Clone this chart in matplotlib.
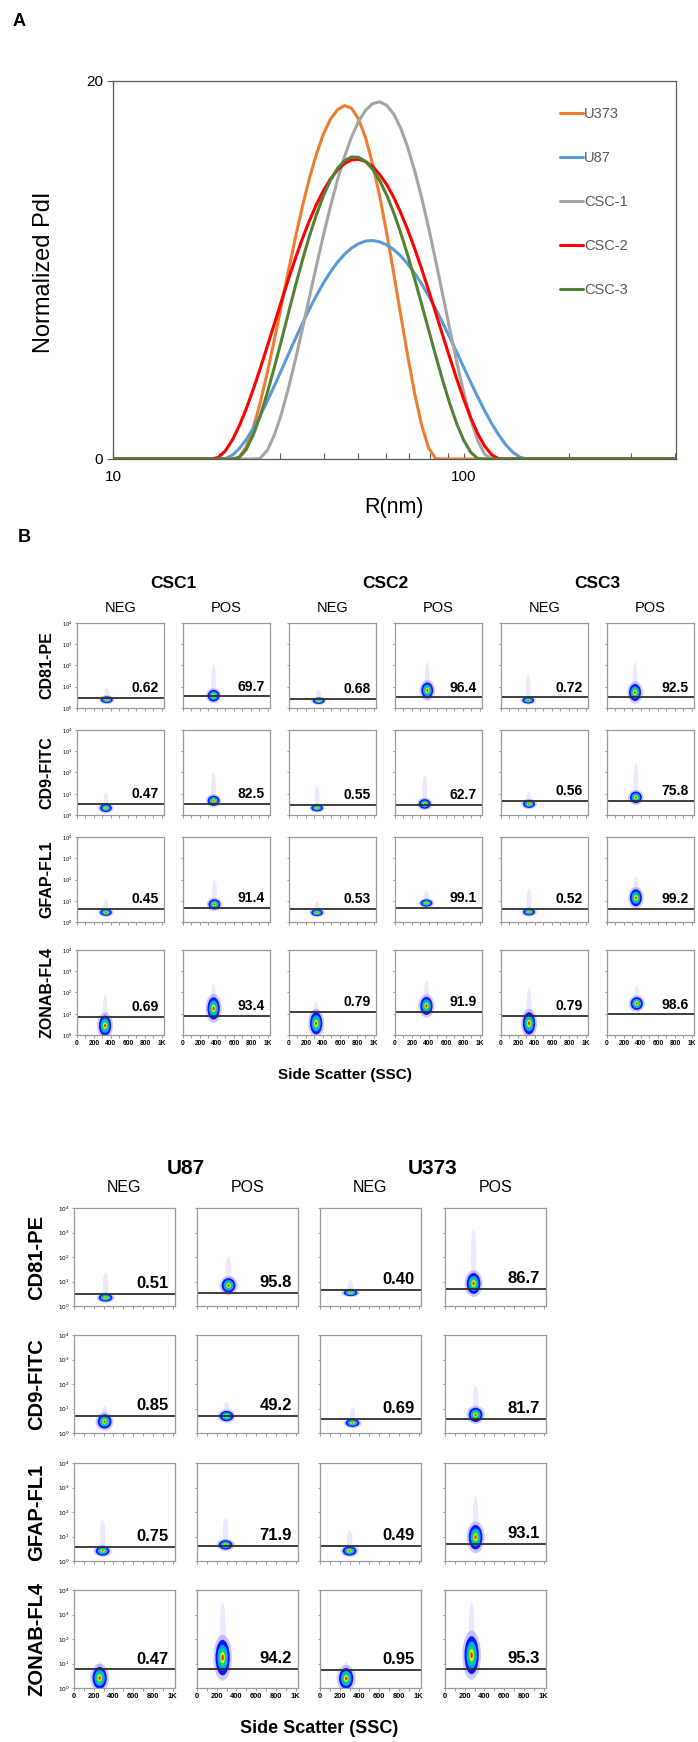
import matplotlib
matplotlib.use('Agg')
import matplotlib.pyplot as plt
from matplotlib.patches import Ellipse

W, H = 698, 1742
SANS = ['Liberation Sans', 'DejaVu Sans']

# ---- panel A: DLS size distributions ----
radius_nm = [10, 17.38, 18.20, 19.05, 19.95, 20.89, 21.88, 22.91, 23.99, 25.12, 26.30, 27.54,
             28.84, 30.20, 31.62, 33.11, 34.67, 36.31, 38.02, 39.81, 41.69, 43.65, 45.71,
             47.86, 50.12, 52.48, 54.95, 57.54, 60.26, 63.10, 66.07, 69.18, 72.44, 75.86,
             79.43, 83.18, 87.10, 91.20, 95.50, 100.0, 104.7, 109.6, 114.8, 120.2, 125.9,
             131.8, 138.0, 144.5, 151.4, 158.5, 166.0, 403]
pdi_u373 = [0, 0, 0, 0, 0, 0, 0, 0.09, 0.65, 1.66, 2.99, 4.57, 6.30, 8.12, 9.94, 11.70, 13.35,
            14.85, 16.13, 17.19, 17.98, 18.48, 18.70, 18.56, 17.99, 17.01, 15.64, 13.95, 11.99,
            9.87, 7.66, 5.49, 3.49, 1.79, 0.58, 0.02, 0, 0, 0, 0, 0, 0, 0, 0, 0, 0, 0, 0, 0, 0,
            0, 0]
pdi_u87 = [0, 0, 0, 0, 0, 0.02, 0.20, 0.55, 1.03, 1.63, 2.31, 3.06, 3.87, 4.69, 5.53, 6.36,
           7.17, 7.93, 8.65, 9.31, 9.90, 10.41, 10.83, 11.16, 11.39, 11.53, 11.56, 11.49, 11.33,
           11.09, 10.75, 10.33, 9.83, 9.27, 8.63, 7.94, 7.21, 6.44, 5.66, 4.85, 4.06, 3.29,
           2.55, 1.87, 1.27, 0.75, 0.36, 0.10, 0, 0, 0, 0]
pdi_csc1 = [0, 0, 0, 0, 0, 0, 0, 0, 0, 0, 0.04, 0.46, 1.26, 2.37, 3.73, 5.24, 6.87, 8.55,
            10.22, 11.84, 13.36, 14.76, 15.99, 17.03, 17.85, 18.45, 18.80, 18.90, 18.72, 18.26,
            17.52, 16.51, 15.27, 13.83, 12.23, 10.50, 8.70, 6.90, 5.14, 3.52, 2.11, 0.98, 0.25,
            0, 0, 0, 0, 0, 0, 0, 0, 0]
pdi_csc2 = [0, 0, 0, 0, 0.08, 0.42, 0.99, 1.75, 2.66, 3.69, 4.80, 5.96, 7.15, 8.34, 9.50,
            10.61, 11.65, 12.61, 13.46, 14.20, 14.82, 15.29, 15.63, 15.82, 15.86, 15.74, 15.48,
            15.07, 14.53, 13.86, 13.05, 12.14, 11.14, 10.06, 8.92, 7.74, 6.55, 5.38, 4.24, 3.16,
            2.19, 1.35, 0.68, 0.22, 0.01, 0, 0, 0, 0, 0, 0, 0]
pdi_csc3 = [0, 0, 0, 0, 0, 0, 0, 0.08, 0.51, 1.28, 2.29, 3.50, 4.85, 6.26, 7.71, 9.14, 10.51,
            11.79, 12.93, 13.93, 14.75, 15.37, 15.78, 15.98, 15.96, 15.75, 15.34, 14.75, 13.98,
            13.05, 11.99, 10.80, 9.53, 8.19, 6.83, 5.47, 4.16, 2.95, 1.87, 0.99, 0.36, 0.03,
            0, 0, 0, 0, 0, 0, 0, 0, 0, 0]
series_names = ['U373', 'U87', 'CSC-1', 'CSC-2', 'CSC-3']
series_colors = ['#ED7D31', '#5B9BD5', '#A5A5A5', '#FF0000', '#548235']

# ---- panel B: flow cytometry ----
markers = ['CD81-PE', 'CD9-FITC', 'GFAP-FL1', 'ZONAB-FL4']
csc_lines = ['CSC1', 'CSC2', 'CSC3']
u_lines = ['U87', 'U373']
ssc_ticks = [0, 200, 400, 600, 800, 1000]
ssc_labels = ['0', '200', '400', '600', '800', '1K']

# columns: NEG/POS for CSC1, CSC2, CSC3 ; y values in decades (10^0 .. 10^4)
csc_pct = [['0.62', '69.7', '0.68', '96.4', '0.72', '92.5'],
           ['0.47', '82.5', '0.55', '62.7', '0.56', '75.8'],
           ['0.45', '91.4', '0.53', '99.1', '0.52', '99.2'],
           ['0.69', '93.4', '0.79', '91.9', '0.79', '98.6']]
csc_gate = [[0.47, 0.55, 0.44, 0.50, 0.50, 0.50],
            [0.52, 0.52, 0.47, 0.47, 0.67, 0.67],
            [0.61, 0.66, 0.63, 0.66, 0.61, 0.63],
            [0.86, 0.90, 1.09, 1.09, 0.90, 0.97]]
csc_blob_y = [[0.39, 0.58, 0.34, 0.83, 0.36, 0.73],
              [0.33, 0.67, 0.33, 0.52, 0.52, 0.83],
              [0.45, 0.83, 0.44, 0.89, 0.47, 1.14],
              [0.44, 1.25, 0.55, 1.37, 0.55, 1.48]]
csc_blob_h = [[0.32, 0.55, 0.30, 0.75, 0.30, 0.80],
              [0.38, 0.48, 0.32, 0.45, 0.38, 0.55],
              [0.32, 0.48, 0.32, 0.34, 0.32, 0.80],
              [0.95, 1.05, 1.05, 0.85, 1.05, 0.60]]
csc_tail = [[0.9, 1.9, 0.8, 2.0, 1.5, 2.0],
            [1.0, 1.9, 1.3, 1.8, 1.0, 2.3],
            [1.0, 1.9, 0.9, 1.4, 1.5, 2.0],
            [1.7, 2.2, 1.4, 2.4, 2.0, 2.2]]
csc_ssc = [[350, 360, 350, 380, 320, 330],
           [340, 360, 330, 350, 330, 340],
           [340, 370, 330, 370, 330, 340],
           [330, 360, 320, 370, 330, 350]]
csc_blob_w = [140, 140, 140, 145]

# columns: U87 NEG, U87 POS, U373 NEG, U373 POS
u_pct = [['0.51', '95.8', '0.40', '86.7'],
         ['0.85', '49.2', '0.69', '81.7'],
         ['0.75', '71.9', '0.49', '93.1'],
         ['0.47', '94.2', '0.95', '95.3']]
u_gate = [[0.50, 0.54, 0.65, 0.70],
          [0.69, 0.69, 0.58, 0.58],
          [0.57, 0.62, 0.63, 0.69],
          [0.76, 0.79, 0.73, 0.79]]
u_blob_y = [[0.34, 0.84, 0.54, 0.92],
            [0.47, 0.69, 0.41, 0.74],
            [0.41, 0.66, 0.41, 0.97],
            [0.41, 1.24, 0.39, 1.34]]
u_blob_h = [[0.32, 0.60, 0.27, 0.85],
            [0.58, 0.42, 0.32, 0.58],
            [0.38, 0.38, 0.38, 1.00],
            [0.90, 1.45, 0.85, 1.55]]
u_tail = [[1.3, 1.9, 1.0, 3.0],
          [1.0, 1.2, 1.0, 1.8],
          [1.6, 1.7, 1.2, 2.45],
          [0.9, 3.2, 0.9, 3.2]]
u_ssc = [[320, 320, 310, 290],
         [310, 300, 330, 310],
         [290, 290, 300, 310],
         [260, 260, 265, 270]]
u_blob_w = [140, 140, 140, 145]

# density layers, outside -> core
layer_scale = [1.0, 0.72, 0.5, 0.32, 0.16]
layer_color = ['#1414ff', '#00a8ff', '#00dd66', '#e6f000', '#ff2000']


def px_axes(fig, left, top, w, h):
    return fig.add_axes([left / W, 1 - (top + h) / H, w / W, h / H])


def ftext(fig, x, y, s, **kw):
    kw.setdefault('family', SANS)
    fig.text(x / W, 1 - y / H, s, **kw)


def flow_panel(ax, ssc, yc, hh, ww, tail, gate, pct, ylab, xlab, pct_size, tick_size):
    ax.set_xlim(0, 1024)
    ax.set_ylim(0, 4)
    # sparse events going up from the population
    if tail > yc:
        ax.add_patch(Ellipse((ssc, (yc + tail) / 2), ww * 0.4, tail - yc + hh * 0.4,
                             color='#4a4aff', alpha=0.12, lw=0))
    ax.add_patch(Ellipse((ssc, yc), ww * 1.3, hh * 1.3, color='#6a6aff', alpha=0.35, lw=0))
    for s, c in zip(layer_scale, layer_color):
        ax.add_patch(Ellipse((ssc, yc), ww * s, hh * s, color=c, lw=0))
    ax.axhline(gate, color='#2e2e2e', lw=1.3)
    ax.annotate(pct, xy=(0.94, gate), xycoords=('axes fraction', 'data'),
                xytext=(0, 2), textcoords='offset points', ha='right', va='bottom',
                fontsize=pct_size, fontweight='bold', family=SANS)
    ax.set_yticks([0, 1, 2, 3, 4])
    if ylab:
        ax.set_yticklabels([r'$10^{%d}$' % d for d in range(5)], fontsize=tick_size)
    else:
        ax.set_yticklabels([])
    ax.set_xticks(ssc_ticks)
    ax.set_xticks([100, 300, 500, 700, 900], minor=True)
    if xlab:
        ax.set_xticklabels(ssc_labels, fontsize=tick_size + 1.2, fontweight='bold', family=SANS)
    else:
        ax.set_xticklabels([])
    ax.tick_params(which='both', length=1.8, width=0.5, colors='#707070', pad=1.5)
    ax.tick_params(axis='both', labelcolor='black')
    for sp in ax.spines.values():
        sp.set_color('#9a9a9a')
        sp.set_linewidth(0.9)


fig = plt.figure(figsize=(W / 100, H / 100), dpi=100)

# ---------------- panel A ----------------
ax = px_axes(fig, 113, 81, 563, 378)
for ys, name, col in zip([pdi_u373, pdi_u87, pdi_csc1, pdi_csc2, pdi_csc3],
                         series_names, series_colors):
    ax.plot(radius_nm, ys, color=col, lw=2.2, label=name,
            solid_capstyle='round', solid_joinstyle='round')
ax.set_xscale('log')
ax.set_xlim(10, 403)
ax.set_ylim(0, 20)
ax.set_yticks([0, 20])
ax.set_yticklabels(['0', '20'], fontsize=11, family=SANS)
ax.set_xticks([10, 100])
ax.set_xticklabels(['10', '100'], fontsize=11, family=SANS)
ax.xaxis.set_minor_formatter(plt.NullFormatter())
ax.tick_params(axis='x', which='both', direction='in', length=4, width=0.8, colors='#595959',
               labelcolor='black', pad=8)
ax.tick_params(axis='y', direction='out', length=4, width=0.8, colors='#595959',
               labelcolor='black', pad=3)
for sp in ax.spines.values():
    sp.set_color('#595959')
    sp.set_linewidth(0.9)
ftext(fig, 394, 507, 'R(nm)', fontsize=15.5, ha='center', va='center')
ftext(fig, 44, 272, 'Normalized PdI', fontsize=17, rotation=90, ha='center', va='center')
leg = ax.legend(loc='upper left', bbox_to_anchor=(0.794, 0.93), frameon=False,
                handlelength=1.6, handletextpad=0.05, labelspacing=2.05,
                borderpad=0, borderaxespad=0, prop={'family': SANS, 'size': 10.5})
for t in leg.get_texts():
    t.set_color('#595959')
ftext(fig, 13, 22, 'A', fontsize=13, fontweight='bold', va='center')

# ---------------- panel B: CSC lines ----------------
ftext(fig, 18, 538, 'B', fontsize=13, fontweight='bold', va='center')
csc_left = [77 + 106 * i for i in range(6)]
csc_top = [623, 730, 837, 950]
cw, ch = 87, 85
for k, name in enumerate(csc_lines):
    cx = (csc_left[2 * k] + csc_left[2 * k + 1] + cw) / 2
    ftext(fig, cx, 583, name, fontsize=12.5, fontweight='bold', ha='center', va='center')
for j in range(6):
    ftext(fig, csc_left[j] + cw / 2, 608, ['NEG', 'POS'][j % 2], fontsize=10.5,
          ha='center', va='center')
for i, m in enumerate(markers):
    ftext(fig, 47, csc_top[i] + ch / 2, m, fontsize=11.5, fontweight='bold',
          rotation=90, ha='center', va='center')
    for j in range(6):
        a = px_axes(fig, csc_left[j], csc_top[i], cw, ch)
        flow_panel(a, csc_ssc[i][j], csc_blob_y[i][j], csc_blob_h[i][j], csc_blob_w[i],
                   csc_tail[i][j], csc_gate[i][j], csc_pct[i][j],
                   j == 0, i == 3, 10, 3.6)
ftext(fig, 345, 1075, 'Side Scatter (SSC)', fontsize=11, fontweight='bold',
      ha='center', va='center')

# ---------------- panel B: U87 / U373 ----------------
u_left = [74, 197, 320, 445]
u_top = [1208, 1335, 1463, 1590]
uw, uh = 101, 98
for k, name in enumerate(u_lines):
    cx = (u_left[2 * k] + u_left[2 * k + 1] + uw) / 2
    ftext(fig, cx, 1168, name, fontsize=15, fontweight='bold', ha='center', va='center')
for j in range(4):
    ftext(fig, u_left[j] + uw / 2, 1188, ['NEG', 'POS'][j % 2], fontsize=11.5,
          ha='center', va='center')
for i, m in enumerate(markers):
    ftext(fig, 37, u_top[i] + uh / 2, m, fontsize=14.5, fontweight='bold',
          rotation=90, ha='center', va='center')
    for j in range(4):
        a = px_axes(fig, u_left[j], u_top[i], uw, uh)
        flow_panel(a, u_ssc[i][j], u_blob_y[i][j], u_blob_h[i][j], u_blob_w[i],
                   u_tail[i][j], u_gate[i][j], u_pct[i][j],
                   j == 0, i == 3, 12, 4.2)
ftext(fig, 319, 1728, 'Side Scatter (SSC)', fontsize=13, fontweight='bold',
      ha='center', va='center')

fig.savefig('out.png', dpi=100)
